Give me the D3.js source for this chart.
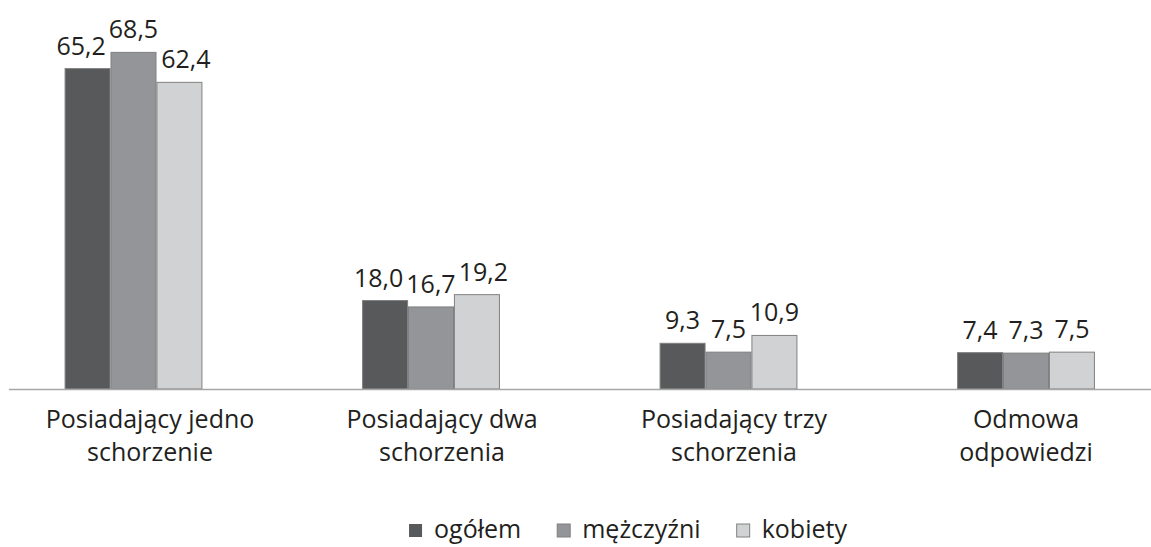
<!DOCTYPE html>
<html>
<head>
<meta charset="utf-8">
<script src="https://cdn.jsdelivr.net/npm/d3@7"></script>
<style>
  html, body { margin: 0; padding: 0; background: #fff; }
  svg text { font-family: "Open Sans", "DejaVu Sans", sans-serif; fill: #231f20; }
</style>
</head>
<body>
<svg id="chart"></svg>
<script>
// data
const categories = [
  ["Posiadający jedno", "schorzenie"],
  ["Posiadający dwa", "schorzenia"],
  ["Posiadający trzy", "schorzenia"],
  ["Odmowa", "odpowiedzi"]
];
const seriesNames = ["ogółem", "mężczyźni", "kobiety"];
const ogolem = [65.2, 18.0, 9.3, 7.4];
const mezczyzni = [68.5, 16.7, 7.5, 7.3];
const kobiety = [62.4, 19.2, 10.9, 7.5];
const seriesColors = ["#58595b", "#939598", "#d1d2d4"];

const width = 1151, height = 547;
const fontSize = 25;
const fmt = v => v.toFixed(1).replace(".", ",");

const catKeys = categories.map(c => c.join(" "));
const seriesValues = [ogolem, mezczyzni, kobiety];
const rows = catKeys.map((key, i) => ({
  key: key,
  values: seriesNames.map((s, j) => ({ series: s, idx: j, value: seriesValues[j][i] }))
}));

const svg = d3.select("#chart")
  .attr("width", width)
  .attr("height", height);

// scales
const x0 = d3.scaleBand()
  .domain(catKeys)
  .range([-15.25, 1174.75])
  .paddingInner(0.54)
  .paddingOuter(0.27);

const x1 = d3.scaleBand()
  .domain(seriesNames)
  .range([0, x0.bandwidth()])
  .paddingInner(0.02);

const xLabel = d3.scalePoint()
  .domain(catKeys)
  .range([150, 1026]);

const y = d3.scaleLinear()
  .domain([0, 70])
  .range([389, 45]);

const color = d3.scaleOrdinal().domain(seriesNames).range(seriesColors);

// bars
const groups = svg.selectAll("g.cat")
  .data(rows)
  .join("g")
  .attr("class", "cat")
  .attr("transform", d => "translate(" + x0(d.key) + ",0)");

groups.selectAll("rect")
  .data(d => d.values)
  .join("rect")
  .attr("x", d => x1(d.series))
  .attr("y", d => y(d.value))
  .attr("width", x1.bandwidth())
  .attr("height", d => y(0) - y(d.value))
  .attr("fill", d => color(d.series))
  .attr("stroke", "#808080")
  .attr("stroke-width", 1);

// value labels, spread a bit when they collide
groups.each(function(d) {
  const g = d3.select(this);
  const labels = g.selectAll("text.val")
    .data(d.values)
    .join("text")
    .attr("class", "val")
    .attr("text-anchor", "middle")
    .attr("font-size", fontSize)
    .attr("y", v => y(v.value) - 14)
    .text(v => fmt(v.value));

  const items = [];
  labels.each(function(v) {
    items.push({ node: this, cx: x1(v.series) + x1.bandwidth() / 2, w: this.getComputedTextLength() });
  });
  for (let k = 0; k < 5; k++) {
    for (let i = 1; i < items.length; i++) {
      const a = items[i - 1], b = items[i];
      const overlap = (a.cx + a.w / 2 + 3) - (b.cx - b.w / 2);
      if (overlap > 0) { a.cx -= overlap / 2; b.cx += overlap / 2; }
    }
  }
  items.forEach(it => d3.select(it.node).attr("x", it.cx));
});

// baseline
svg.append("line")
  .attr("x1", 9)
  .attr("x2", width)
  .attr("y1", y(0) + 0.5)
  .attr("y2", y(0) + 0.5)
  .attr("stroke", "#a6a6a6")
  .attr("stroke-width", 1.5);

// category labels
const catText = svg.selectAll("text.cat")
  .data(categories)
  .join("text")
  .attr("class", "cat")
  .attr("text-anchor", "middle")
  .attr("font-size", fontSize)
  .attr("x", (d, i) => xLabel(catKeys[i]))
  .attr("y", 428);

catText.selectAll("tspan")
  .data(d => d)
  .join("tspan")
  .attr("x", function() { return d3.select(this.parentNode).attr("x"); })
  .attr("dy", (d, i) => i === 0 ? 0 : 33)
  .text(d => d);

// legend
const legend = svg.append("g").attr("class", "legend");
let lx = 0;
seriesNames.forEach((name, i) => {
  const item = legend.append("g").attr("transform", "translate(" + lx + ",0)");
  item.append("rect")
    .attr("x", 0)
    .attr("y", -14)
    .attr("width", 13)
    .attr("height", 13)
    .attr("fill", color(name))
    .attr("stroke", i === 0 ? "none" : "#808080")
    .attr("stroke-width", 1);
  const t = item.append("text")
    .attr("x", 25)
    .attr("y", 0)
    .attr("font-size", fontSize)
    .text(name);
  lx += 25 + t.node().getComputedTextLength() + 36;
});
const legendW = lx - 36;
legend.attr("transform", "translate(" + (628 - legendW / 2) + ",538)");
</script>
</body>
</html>
